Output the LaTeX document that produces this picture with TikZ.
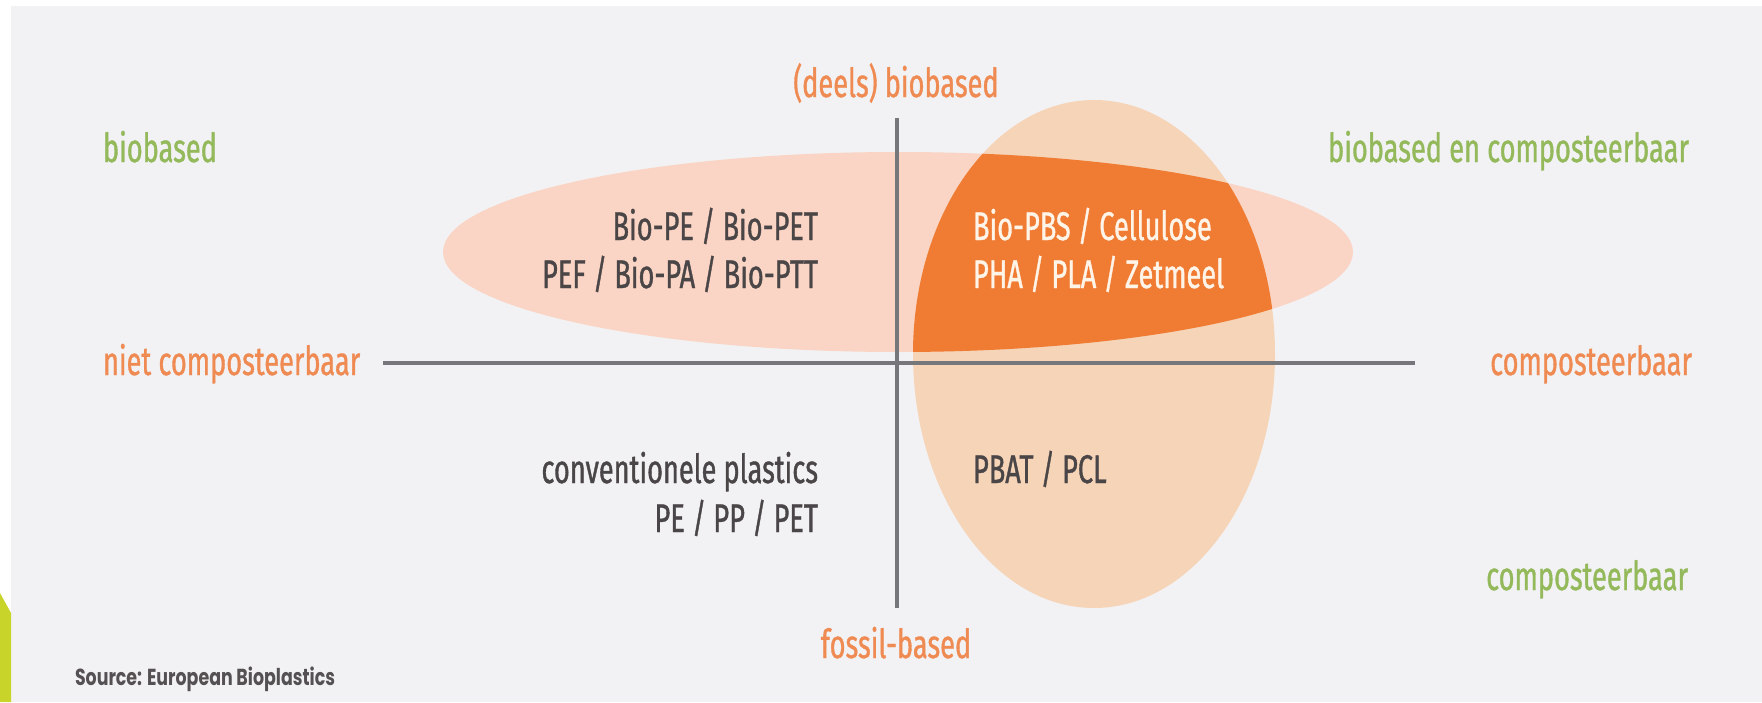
\documentclass[tikz,border=0pt]{standalone}
\usepackage{fontspec}
\setmainfont[FakeStretch=0.68,FakeBold=0.9]{Fira Sans}
\newfontfamily\srcfont[FakeStretch=0.75]{Poppins}
\definecolor{panel}{HTML}{F2F2F4}
\definecolor{hell}{HTML}{FAD4C4}
\definecolor{vell}{HTML}{F6D4B8}
\definecolor{dorange}{HTML}{F07B33}
\definecolor{axisgray}{HTML}{76777B}
\definecolor{orng}{HTML}{EF8B52}
\definecolor{grn}{HTML}{93B95B}
\definecolor{darktxt}{HTML}{4A4546}
\definecolor{cream}{HTML}{FFF4E8}
\definecolor{ygreen}{HTML}{C9D42B}
\definecolor{srcgray}{HTML}{555152}
\begin{document}
\begin{tikzpicture}[x=0.5pt,y=-0.5pt,
  lbl/.style={inner sep=0pt,outer sep=0pt,font=\fontsize{20}{24}\selectfont},
  axisline/.style={draw=axisgray,line width=1.6pt},
  srcstyle/.style={inner sep=0pt,outer sep=0pt,text=srcgray,font=\srcfont\bfseries\fontsize{11.6}{13}\selectfont}]
\useasboundingbox (0,0) rectangle (1762,702);
\fill[white] (0,0) rectangle (1762,702);
\fill[panel] (11,6) rectangle (1762,702);
\fill[ygreen] (0,593) -- (11,613) -- (11,702) -- (0,702) -- cycle;
% ellipses
\fill[hell] (898,252) ellipse [x radius=455, y radius=100];
\fill[vell] (1094,354) ellipse [x radius=181, y radius=254];
\begin{scope}
  \clip (898,252) ellipse [x radius=455, y radius=100];
  \fill[dorange] (1094,354) ellipse [x radius=181, y radius=254];
\end{scope}
% axes
\coordinate (vtop) at (897,118);
\coordinate (vbot) at (897,608);
\coordinate (hleft) at (383,363);
\coordinate (hright) at (1415,363);
\draw[axisline] (vtop) -- (vbot);
\draw[axisline] (hleft) -- (hright);
% axis labels
\node[lbl,text=orng,anchor=base] (deels) at (896,97) {(deels) biobased};
\node[lbl,text=orng,anchor=base] (fossil) at (896,658) {fossil-based};
\node[lbl,text=orng,anchor=base west] (niet) at (103,375) {niet composteerbaar};
\node[lbl,text=orng,anchor=base east] (comp) at (1692,375) {composteerbaar};
\node[lbl,text=grn,anchor=base west] (bio) at (103,162) {biobased};
\node[lbl,text=grn,anchor=base east] (bioc) at (1689,162) {biobased en composteerbaar};
\node[lbl,text=grn,anchor=base east] (compg) at (1688,590) {composteerbaar};
% quadrant texts
\node[lbl,text=darktxt,anchor=base east] (q1a) at (818,240) {Bio-PE / Bio-PET};
\node[lbl,text=darktxt,anchor=base east] (q1b) at (818,288) {PEF / Bio-PA / Bio-PTT};
\node[lbl,text=cream,anchor=base west] (q2a) at (973,240) {Bio-PBS / Cellulose};
\node[lbl,text=cream,anchor=base west] (q2b) at (973,288) {PHA / PLA / Zetmeel};
\node[lbl,text=darktxt,anchor=base east] (q3a) at (818,483) {conventionele plastics};
\node[lbl,text=darktxt,anchor=base east] (q3b) at (818,532) {PE / PP / PET};
\node[lbl,text=darktxt,anchor=base west] (q4a) at (973,483) {PBAT / PCL};
% source
\node[srcstyle,anchor=base west] (src) at (75,685) {Source: European Bioplastics};
\end{tikzpicture}
\end{document}
